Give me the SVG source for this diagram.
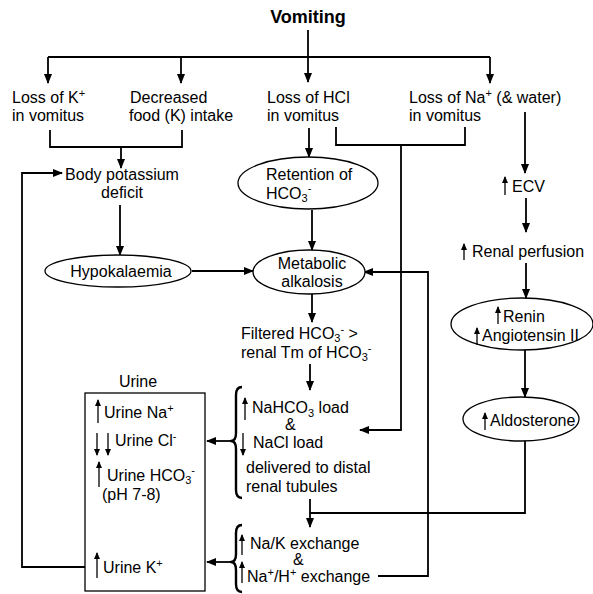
<svg xmlns="http://www.w3.org/2000/svg" width="593" height="594" viewBox="0 0 593 594">
  <defs>
    <marker id="ah" markerUnits="userSpaceOnUse" markerWidth="10" markerHeight="8" refX="9" refY="4" orient="auto">
      <path d="M0,0 L10,4 L0,8 z" fill="#000"/>
    </marker>
    <marker id="sa" markerUnits="userSpaceOnUse" markerWidth="7" markerHeight="6" refX="6" refY="3" orient="auto">
      <path d="M0,0 L7,3 L0,6 z" fill="#000"/>
    </marker>
    <style>
      text { font-family: "Liberation Sans", Arial, sans-serif; font-size: 16px; fill: #000; }
      .title { font-size: 18px; font-weight: bold; }
      .mid { text-anchor: middle; }
      .sm { font-size: 11px; }
      .conn { fill: none; stroke: #000; stroke-width: 1.8; }
      .conn path.arr { marker-end: url(#ah); }
      .node ellipse, .node rect { fill: #fff; stroke: #000; stroke-width: 1.3; }
      .tick { fill: none; stroke: #000; stroke-width: 1.3; marker-end: url(#sa); }
      .brace { fill: none; stroke: #000; stroke-width: 2.4; stroke-linejoin: round; }
    </style>
  </defs>
  <rect width="593" height="594" fill="#fff"/>

  <!-- connectors -->
  <g id="connectors" class="conn">
    <path d="M48,57 H490"/>
    <path class="arr" d="M308,30 V82"/>
    <path class="arr" d="M48,57 V83"/>
    <path class="arr" d="M181,57 V83"/>
    <path class="arr" d="M490,57 V83"/>
    <path d="M50,130 V147 H182 V130"/>
    <path class="arr" d="M121,147 V168"/>
    <path class="arr" d="M309,128 V157"/>
    <path d="M336,127 V145 H465 V127"/>
    <path class="arr" d="M401,145 V430 H360"/>
    <path class="arr" d="M120,205 V255"/>
    <path class="arr" d="M192,271 H253"/>
    <path class="arr" d="M312,210 V250"/>
    <path class="arr" d="M312,294 V322"/>
    <path class="arr" d="M310,364 V390"/>
    <path class="arr" d="M85,567 H22 V173 H62"/>
    <path class="arr" d="M233,441 H207"/>
    <path class="arr" d="M233,562 H207"/>
    <path class="arr" d="M378,576 H428 V272 H364"/>
    <path class="arr" d="M525,112 V173"/>
    <path class="arr" d="M526,198 V232"/>
    <path class="arr" d="M526,263 V298"/>
    <path class="arr" d="M525,350 V397"/>
    <path d="M525,441 V513 H310"/>
    <path class="arr" d="M310,499 V527"/>
  </g>

  <!-- top -->
  <g id="vomiting"><text class="title mid" x="308" y="23">Vomiting</text></g>

  <g id="loss-k"><text x="12" y="103">Loss of K<tspan class="sm" dy="-6">+</tspan></text><text x="12" y="121">in vomitus</text></g>
  <g id="food-intake"><text x="130" y="103">Decreased</text><text x="129" y="121">food (K) intake</text></g>
  <g id="loss-hcl"><text x="267" y="103">Loss of HCl</text><text x="267" y="121">in vomitus</text></g>
  <g id="loss-na"><text x="409" y="103">Loss of Na<tspan class="sm" dy="-6">+</tspan><tspan dy="6"> (&amp; water)</tspan></text><text x="409" y="121">in vomitus</text></g>

  <g id="k-deficit"><text class="mid" x="122" y="180">Body potassium</text><text class="mid" x="122" y="198">deficit</text></g>

  <g id="retention" class="node">
    <ellipse cx="308" cy="183" rx="70" ry="26"/>
    <text x="266" y="180">Retention of</text>
    <text x="266" y="199">HCO<tspan class="sm" dy="3">3</tspan><tspan class="sm" dy="-10">-</tspan></text>
  </g>

  <g id="hypokalaemia" class="node">
    <ellipse cx="118" cy="271" rx="73" ry="16"/>
    <text class="mid" x="121" y="277">Hypokalaemia</text>
  </g>

  <g id="alkalosis" class="node">
    <ellipse cx="309" cy="272" rx="56" ry="22"/>
    <text class="mid" x="312" y="269">Metabolic</text>
    <text class="mid" x="312" y="287">alkalosis</text>
  </g>

  <g id="filtered">
    <text x="241" y="339">Filtered HCO<tspan class="sm" dy="3">3</tspan><tspan class="sm" dy="-9">-</tspan><tspan dy="6"> &gt;</tspan></text>
    <text x="241" y="358">renal Tm of HCO<tspan class="sm" dy="3">3</tspan><tspan class="sm" dy="-9">-</tspan></text>
  </g>

  <!-- right column -->
  <g id="ecv"><path class="tick" d="M505,195 V177"/><text x="512" y="192">ECV</text></g>
  <g id="renal-perfusion"><path class="tick" d="M464,260 V244"/><text x="472" y="257">Renal perfusion</text></g>
  <g id="renin" class="node">
    <ellipse cx="522" cy="324" rx="71" ry="26"/>
    <path class="tick" d="M498,324 V307"/>
    <text x="503" y="322">Renin</text>
    <path class="tick" d="M477,345 V328"/>
    <text x="482" y="341">Angiotensin II</text>
  </g>
  <g id="aldosterone" class="node">
    <ellipse cx="521" cy="419" rx="58" ry="22"/>
    <path class="tick" d="M485,430 V413"/>
    <text x="490" y="426">Aldosterone</text>
  </g>

  <!-- distal delivery -->
  <g id="distal-load">
    <path class="brace" d="M242,387 Q236,387 236,395 V433 Q236,441 231,441 Q236,441 236,449 V490 Q236,498 242,498"/>
    <path class="tick" d="M245,420 V398"/>
    <text x="252" y="413">NaHCO<tspan class="sm" dy="4">3</tspan><tspan dy="-4"> load</tspan></text>
    <text x="285" y="430">&amp;</text>
    <path class="tick" d="M243,433 V455"/>
    <text x="253" y="448">NaCl load</text>
    <text x="246" y="473">delivered to distal</text>
    <text x="246" y="492">renal tubules</text>
  </g>

  <g id="exchange">
    <path class="brace" d="M242,525 Q236,525 236,533 V554 Q236,562 231,562 Q236,562 236,570 V584 Q236,592 242,592"/>
    <path class="tick" d="M242,555 V535"/>
    <text x="250" y="549">Na/K exchange</text>
    <text x="293" y="565">&amp;</text>
    <path class="tick" d="M242,583 V562"/>
    <text x="247" y="582">Na<tspan class="sm" dy="-6">+</tspan><tspan dy="6">/H</tspan><tspan class="sm" dy="-6">+</tspan><tspan dy="6"> exchange</tspan></text>
  </g>

  <!-- urine box -->
  <g id="urine" class="node">
    <text class="mid" x="138" y="387">Urine</text>
    <rect x="85" y="393" width="120" height="198"/>
    <path class="tick" d="M98,423 V400"/>
    <text x="104" y="418">Urine Na<tspan class="sm" dy="-6">+</tspan></text>
    <path class="tick" d="M97,433 V455"/>
    <path class="tick" d="M108,433 V455"/>
    <text x="115" y="446">Urine Cl<tspan class="sm" dy="-6">-</tspan></text>
    <path class="tick" d="M99,487 V462"/>
    <text x="107" y="481">Urine HCO<tspan class="sm" dy="3">3</tspan><tspan class="sm" dy="-10">-</tspan></text>
    <text x="102" y="500">(pH 7-8)</text>
    <path class="tick" d="M97,578 V553"/>
    <text x="103" y="573">Urine K<tspan class="sm" dy="-6">+</tspan></text>
  </g>
</svg>
